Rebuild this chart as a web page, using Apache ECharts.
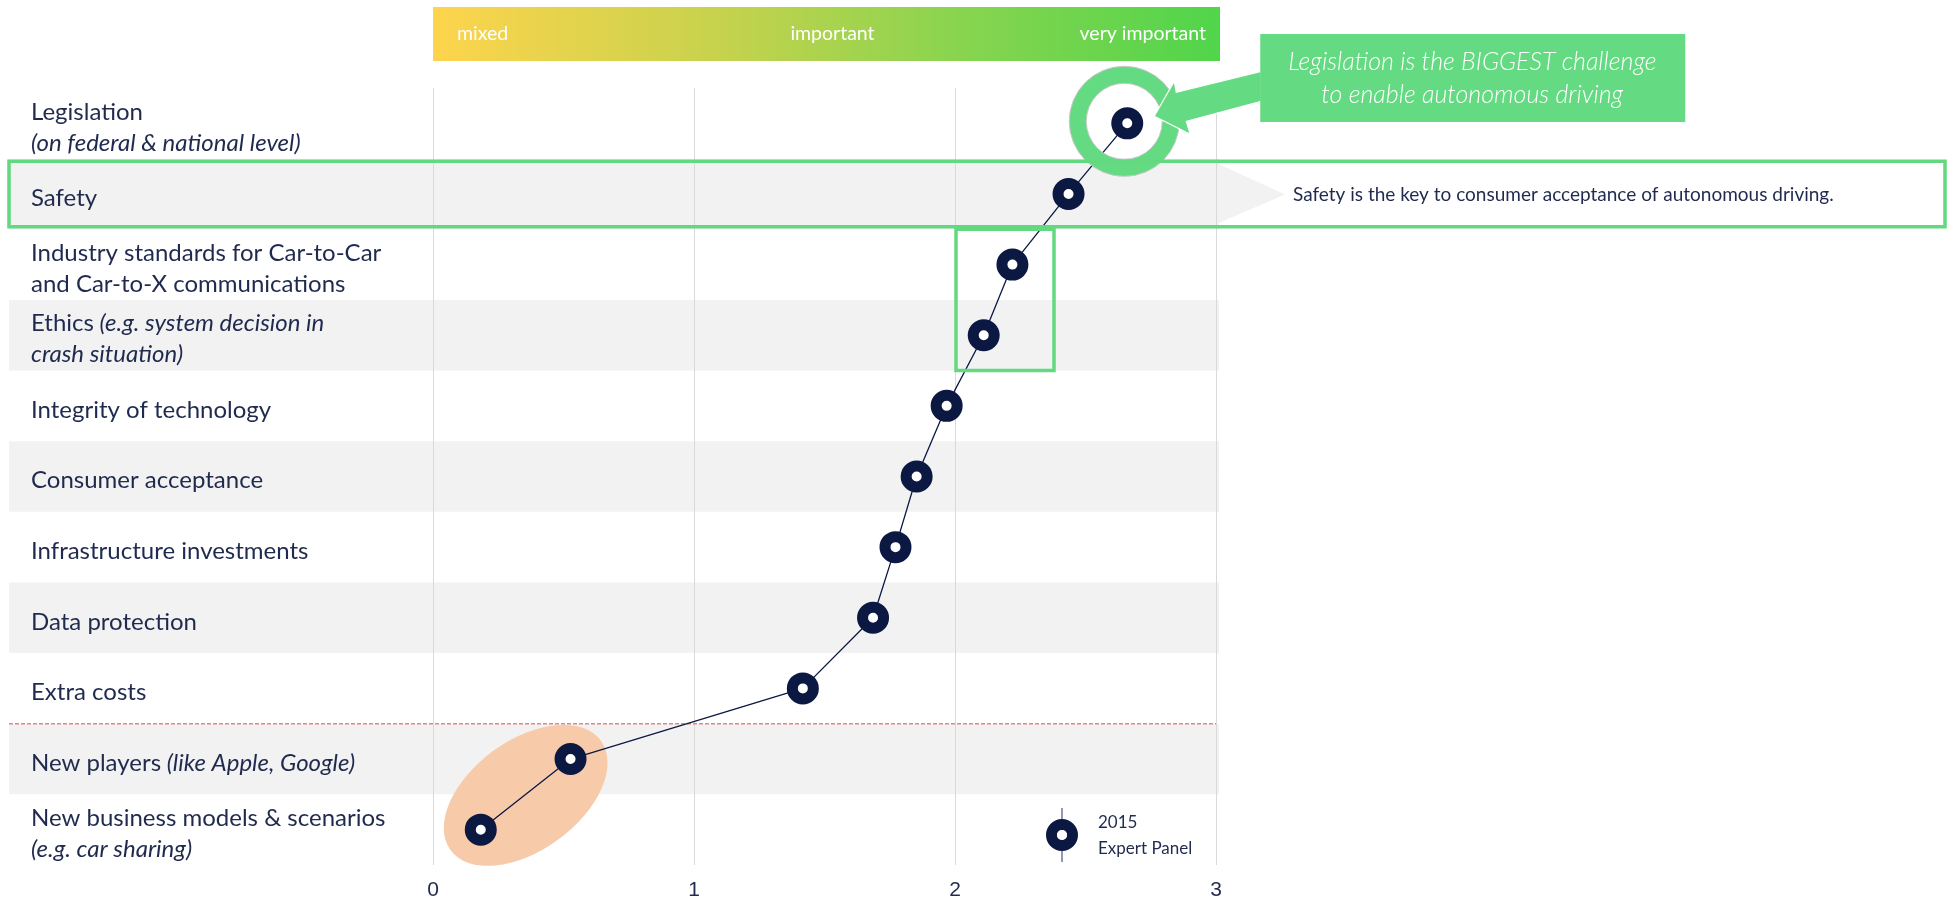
<!DOCTYPE html>
<html>
<head>
<meta charset="utf-8">
<script src="https://cdn.jsdelivr.net/npm/echarts@6/dist/echarts.min.js"></script>
<style>
  html, body { margin: 0; padding: 0; background: #ffffff; }
  #chart { width: 1955px; height: 901px; }
</style>
</head>
<body>
<div id="chart"></div>
<script>
// Challenges for autonomous driving, rated by the 2015 expert panel (0 = low, 3 = very important)
const categories = [
  'Legislation',
  'Safety',
  'Industry standards for Car-to-Car\nand Car-to-X communications',
  'Ethics',
  'Integrity of technology',
  'Consumer acceptance',
  'Infrastructure investments',
  'Data protection',
  'Extra costs',
  'New players',
  'New business models & scenarios'
];
// italic remarks that follow each category name
const notes = [
  '\n(on federal & national level)',
  '',
  '',
  ' (e.g. system decision in\ncrash situation)',
  '',
  '',
  '',
  '',
  '',
  ' (like Apple, Google)',
  '\n(e.g. car sharing)'
];
const scores2015 = [2.66, 2.435, 2.22, 2.11, 1.968, 1.853, 1.772, 1.686, 1.417, 0.527, 0.183];
const xTicks = [0, 1, 2, 3];
const scaleLabels = ['mixed', 'important', 'very important'];
const shadedRows = [1, 3, 5, 7, 9];
const seriesName = ['2015', 'Expert Panel'];
const keyMessage = 'Legislation is the BIGGEST challenge\nto enable autonomous driving';
const safetyNote = 'Safety is the key to consumer acceptance of autonomous driving.';

const NAVY = '#0b1842';
const TEXT = '#1f2a4e';
const GREEN = '#64db82';
const FONT = 'Lato, "Open Sans", sans-serif';

function richLabel(main, note) {
  const parts = [];
  main.split('\n').forEach((l, k) => { if (k) parts.push('\n'); parts.push('{r|' + l + '}'); });
  if (note) {
    note.split('\n').forEach((l, k) => { if (k) parts.push('\n'); if (l) parts.push('{i|' + l + '}'); });
  }
  return parts.join('');
}

const chart = echarts.init(document.getElementById('chart'), null, { renderer: 'canvas' });

chart.setOption({
  animation: false,
  backgroundColor: '#ffffff',
  grid: { left: 433, right: 739, top: 88, bottom: 34, containLabel: false },
  xAxis: {
    type: 'value',
    min: xTicks[0],
    max: xTicks[xTicks.length - 1],
    interval: 1,
    axisLine: { show: false },
    axisTick: { show: false },
    splitLine: { show: true, lineStyle: { color: '#d9d9d9', width: 1 } },
    axisLabel: {
      margin: 15,
      fontSize: 21,
      color: TEXT,
      fontFamily: '"Liberation Sans", Arial, sans-serif',
      formatter: v => String(v)
    }
  },
  yAxis: {
    type: 'category',
    data: categories,
    inverse: true,
    axisLine: { show: false },
    axisTick: { show: false },
    splitLine: { show: false },
    axisLabel: {
      align: 'left',
      margin: 402,
      padding: [8, 0, 0, 0],
      formatter: (v, idx) => richLabel(v, notes[idx]),
      rich: {
        r: { fontSize: 24, color: TEXT, fontFamily: FONT, lineHeight: 31 },
        i: { fontSize: 24, color: TEXT, fontFamily: FONT, fontStyle: 'italic', lineHeight: 31 }
      }
    }
  },
  series: [
    {
      // alternating row shading
      type: 'custom',
      z: -1,
      clip: false,
      silent: true,
      data: shadedRows.map(i => [0, i]),
      encode: { x: 0, y: 1 },
      renderItem: (params, api) => {
        const idx = api.value(1);
        const c = api.coord([0, idx]);
        const h = api.size([0, 1])[1];
        const right = api.coord([3, idx])[0] + 3;
        return {
          type: 'rect',
          shape: { x: 9, y: c[1] - h / 2, width: right - 9, height: h },
          style: { fill: '#f2f2f2' }
        };
      }
    },
    {
      name: seriesName.join(' '),
      type: 'line',
      z: 5,
      data: scores2015.map((v, i) => [v, i]),
      symbol: 'circle',
      symbolSize: 21,
      showSymbol: true,
      lineStyle: { color: NAVY, width: 1.3 },
      itemStyle: { color: '#ffffff', borderColor: NAVY, borderWidth: 11 },
      emphasis: { disabled: true },
      silent: true
    }
  ]
});

// annotations placed from the axis scales
const px = (x, y) => chart.convertToPixel({ gridIndex: 0 }, [x, y]);
const rowH = px(0, 1)[1] - px(0, 0)[1];
const x0 = px(0, 0)[0];
const x3 = px(3, 0)[0];

const pLeg = px(scores2015[0], 0);
const pSafety = px(0, 1);
const pNP = px(scores2015[9], 9);
const pNB = px(scores2015[10], 10);

const graphics = [];

// rating scale banner
const bannerTop = 7, bannerH = 54, bannerRight = x3 + 4;
graphics.push({
  type: 'rect', z: 1,
  shape: { x: x0, y: bannerTop, width: bannerRight - x0, height: bannerH },
  style: {
    fill: new echarts.graphic.LinearGradient(0, 0, 1, 0, [
      { offset: 0, color: '#fed44c' },
      { offset: 0.35, color: '#c9d24d' },
      { offset: 0.65, color: '#8cd44f' },
      { offset: 1, color: '#50d54b' }
    ])
  }
});
const bannerY = bannerTop + bannerH / 2;
const bannerFont = '19.5px ' + FONT;
graphics.push(
  { type: 'text', z: 2, style: { text: scaleLabels[0], x: x0 + 24, y: bannerY, fill: '#ffffff', font: bannerFont, textAlign: 'left', textVerticalAlign: 'middle' } },
  { type: 'text', z: 2, style: { text: scaleLabels[1], x: (x0 + bannerRight) / 2 + 6, y: bannerY, fill: '#ffffff', font: bannerFont, textAlign: 'center', textVerticalAlign: 'middle' } },
  { type: 'text', z: 2, style: { text: scaleLabels[2], x: bannerRight - 14, y: bannerY, fill: '#ffffff', font: bannerFont, textAlign: 'right', textVerticalAlign: 'middle' } }
);

// Safety row arrow tail and its note
const sTop = pSafety[1] - rowH / 2 + 5;
const sBot = pSafety[1] + rowH / 2 - 6;
graphics.push({
  type: 'polygon', z: -1, silent: true,
  shape: { points: [[x3 + 2, sTop], [x3 + 69, pSafety[1] + 0.5], [x3 + 2, sBot]] },
  style: { fill: '#f2f2f2' }
});
graphics.push({
  type: 'text', z: 3,
  style: { text: safetyNote, x: x3 + 77, y: pSafety[1] + 1, fill: TEXT, font: '19px ' + FONT, textAlign: 'left', textVerticalAlign: 'middle' }
});

// Safety highlight frame
graphics.push({
  type: 'rect', z: 10,
  shape: { x: 9, y: pSafety[1] - rowH / 2 + 2.5, width: 1936, height: rowH - 5 },
  style: { fill: null, stroke: '#62d97f', lineWidth: 3.5 }
});

// frame around the communication standards and ethics points
const pInd = px(2, 2);
const pEth = px(2, 3);
graphics.push({
  type: 'rect', z: 10,
  shape: { x: pInd[0] + 1, y: pInd[1] - rowH / 2, width: 98, height: pEth[1] - pInd[1] + rowH },
  style: { fill: null, stroke: '#62d97f', lineWidth: 3.5 }
});

// dashed divider before the low-rated items
const divY = (px(0, 8)[1] + px(0, 9)[1]) / 2;
graphics.push({
  type: 'line', z: 3,
  shape: { x1: 9, y1: divY, x2: x3, y2: divY },
  style: { stroke: '#e58585', lineWidth: 1.3, lineDash: [4, 2] }
});

// ellipse around the two lowest points
graphics.push({
  type: 'circle', z: 1,
  x: (pNP[0] + pNB[0]) / 2,
  y: (pNP[1] + pNB[1]) / 2 + 1,
  scaleX: 93 / 55,
  scaleY: 1,
  rotation: 36 * Math.PI / 180,
  shape: { cx: 0, cy: 0, r: 55 },
  style: { fill: '#f7cbaa' }
});

// ring around the legislation point
graphics.push({
  type: 'ring', z: 9,
  shape: { cx: pLeg[0] - 3, cy: pLeg[1] - 2, r: 55, r0: 38 },
  style: { fill: GREEN, stroke: '#c8c8c8', lineWidth: 1 }
});

// callout box with pointer
const cx = pLeg[0], cy = pLeg[1];
graphics.push({
  type: 'polygon', z: 11,
  shape: {
    points: [
      [cx + 27, cy - 7], [cx + 47, cy - 42], [cx + 49, cy - 31], [cx + 134, cy - 52],
      [cx + 134, cy - 22], [cx + 59, cy - 2], [cx + 63, cy + 11]
    ]
  },
  style: { fill: GREEN, stroke: '#ffffff', lineWidth: 1.2 }
});
graphics.push({
  type: 'rect', z: 12,
  shape: { x: cx + 133, y: 34, width: 425, height: 88 },
  style: { fill: GREEN }
});
graphics.push({
  type: 'text', z: 13,
  style: {
    text: keyMessage, x: cx + 133 + 212, y: 78,
    fill: '#ffffff', font: 'italic 300 25px ' + FONT, lineHeight: 33,
    textAlign: 'center', textVerticalAlign: 'middle'
  }
});

// legend
const lgX = 1062, lgY = 835;
graphics.push(
  { type: 'line', z: 3, shape: { x1: lgX, y1: lgY - 27, x2: lgX, y2: lgY + 27 }, style: { stroke: '#5a6285', lineWidth: 1.3 } },
  { type: 'ring', z: 4, shape: { cx: lgX, cy: lgY, r: 16, r0: 5 }, style: { fill: NAVY } },
  { type: 'circle', z: 4, shape: { cx: lgX, cy: lgY, r: 5 }, style: { fill: '#ffffff' } },
  { type: 'text', z: 4, style: { text: seriesName.join('\n'), x: lgX + 36, y: lgY + 1, fill: TEXT, font: '17px ' + FONT, lineHeight: 26, textAlign: 'left', textVerticalAlign: 'middle' } }
);

chart.setOption({ graphic: { elements: graphics } });
</script>
</body>
</html>
